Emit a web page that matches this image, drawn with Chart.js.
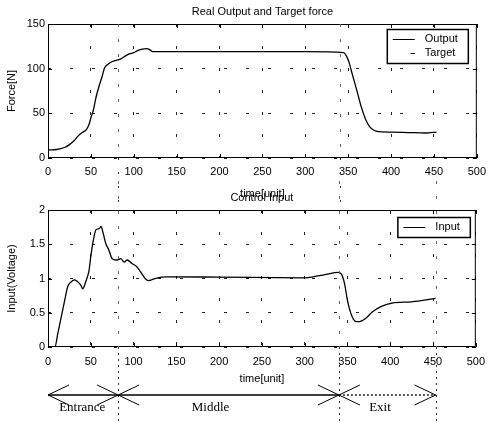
<!DOCTYPE html>
<html>
<head>
<meta charset="utf-8">
<script src="https://cdn.jsdelivr.net/npm/chart.js@4.4.0/dist/chart.umd.min.js"></script>
<style>
  html, body { margin: 0; padding: 0; background: #fff; }
  #wrap { position: relative; width: 493px; height: 423px; overflow: hidden; }
  #wrap canvas { position: absolute; left: 0; }
  #force { top: 0; }
  #input { top: 181px; }
</style>
</head>
<body>
<div id="wrap">
  <canvas id="force" width="493" height="202"></canvas>
  <canvas id="input" width="493" height="242"></canvas>
</div>
<script>
/** Data */
const outputTime = [0, 5, 10, 15, 20, 25, 30, 35, 40, 45, 48, 50, 53, 56, 60, 63, 66, 70, 75, 80,
  85, 90, 95, 100, 105, 110, 115, 119, 122, 150, 200, 250, 300, 345, 348, 351, 355, 360, 365, 370,
  375, 380, 385, 400, 420, 440, 453];
const outputForce = [9, 9.2, 9.5, 10.5, 12, 15, 19, 24.5, 28.5, 32, 38, 45, 54, 68, 82, 91, 101, 105, 108, 109.5,
  111, 114, 116.5, 118, 120.5, 122, 122.5, 121, 119, 119, 119, 119, 119, 118, 114, 107, 93, 76, 58, 44,
  35, 31, 29.5, 29, 28.5, 28, 29];

const inputTime = [0, 8, 11.5, 15.5, 19.5, 23, 27, 31, 35, 38.5, 40.5, 44, 48, 50, 53, 56, 60, 62, 64.5, 67.5,
  71, 75, 81, 85, 89, 92.5, 98, 104, 108, 113.5, 117.5, 123, 133, 140, 200, 300, 310, 325, 339, 342.5,
  346.5, 350, 354, 360, 364, 371.5, 379, 389, 402, 425, 453];
const inputVoltage = [0, 0, 0.2, 0.44, 0.68, 0.88, 0.95, 0.98, 0.95, 0.9, 0.85, 0.95, 1.12, 1.32, 1.56, 1.71, 1.73, 1.76, 1.66, 1.51,
  1.42, 1.29, 1.27, 1.29, 1.24, 1.27, 1.22, 1.17, 1.1, 1.0, 0.97, 0.99, 1.02, 1.025, 1.02, 1.01, 1.025, 1.06, 1.09, 1.07,
  0.93, 0.68, 0.49, 0.37, 0.37, 0.42, 0.51, 0.59, 0.64, 0.66, 0.71];

// phases of the run, in time units
const phaseNames = ['Entrance', 'Middle', 'Exit'];
const phaseEdges = [0, 82, 340, 453];
const phaseLabelAt = [40, 190, 388];

const SANS = '"Liberation Sans", Arial, Helvetica, sans-serif';
const SERIF = '"Liberation Serif", "Times New Roman", serif';

Chart.defaults.font.family = SANS;
Chart.defaults.font.size = 11;
Chart.defaults.color = '#000';

const toPoints = (xs, ys) => xs.map((x, i) => ({x: x, y: ys[i]}));

/** Matlab-like frame: box, inward ticks, title over the axes, legend inside */
const matlabFrame = {
  id: 'matlabFrame',
  afterDraw(chart, args, opts) {
    const {ctx, chartArea: a, scales} = chart;
    ctx.save();
    ctx.strokeStyle = '#000';
    ctx.lineWidth = 1;
    ctx.setLineDash([]);
    ctx.strokeRect(a.left + 0.5, a.top + 0.5, a.right - a.left - 1, a.bottom - a.top - 1);

    ctx.beginPath();
    scales.x.ticks.forEach(t => {
      const px = Math.round(scales.x.getPixelForValue(t.value)) + 0.5;
      ctx.moveTo(px, a.bottom); ctx.lineTo(px, a.bottom - 4);
      ctx.moveTo(px, a.top); ctx.lineTo(px, a.top + 4);
    });
    scales.y.ticks.forEach(t => {
      const py = Math.round(scales.y.getPixelForValue(t.value)) + 0.5;
      ctx.moveTo(a.left, py); ctx.lineTo(a.left + 4, py);
      ctx.moveTo(a.right, py); ctx.lineTo(a.right - 4, py);
    });
    ctx.stroke();

    ctx.fillStyle = '#000';
    ctx.font = '11px ' + SANS;
    ctx.textAlign = 'center';
    ctx.textBaseline = 'middle';
    ctx.fillText(opts.title, (a.left + a.right) / 2, a.top - 12);

    // legend
    const sets = chart.data.datasets;
    const rowH = 14;
    const textW = Math.max(...sets.map(d => ctx.measureText(d.label).width));
    const w = 6 + 22 + 10 + textW + 10;
    const h = sets.length * rowH + 6;
    const x0 = a.right - opts.legendRight - w;
    const y0 = a.top + opts.legendTop;
    ctx.fillStyle = '#fff';
    ctx.fillRect(x0, y0, w, h);
    ctx.lineWidth = 1.5;
    ctx.strokeRect(x0 + 0.5, y0 + 0.5, w, h);
    sets.forEach((d, i) => {
      const cy = y0 + 3 + rowH * i + rowH / 2;
      ctx.save();
      ctx.lineWidth = 1;
      ctx.setLineDash(d.borderDash || []);
      ctx.lineDashOffset = d.borderDashOffset || 0;
      ctx.beginPath();
      ctx.moveTo(x0 + 6, cy + 0.5);
      ctx.lineTo(x0 + 28, cy + 0.5);
      ctx.stroke();
      ctx.restore();
      ctx.fillStyle = '#000';
      ctx.textAlign = 'left';
      ctx.fillText(d.label, x0 + 38, cy);
    });
    ctx.restore();
  }
};

/** Phase boundaries and the Entrance / Middle / Exit arrows */
const phases = {
  id: 'phases',
  afterDraw(chart, args, opts) {
    const {ctx, chartArea: a, scales: {x}} = chart;
    ctx.save();
    ctx.lineWidth = 1;
    // faint inside the axes, denser underneath
    opts.lines.forEach(v => {
      const px = Math.round(x.getPixelForValue(v)) + 0.5;
      ctx.strokeStyle = '#666';
      ctx.setLineDash([3, 12]);
      ctx.beginPath();
      ctx.moveTo(px, opts.fromTop ? 0 : a.top);
      ctx.lineTo(px, a.bottom);
      ctx.stroke();
      ctx.strokeStyle = '#333';
      ctx.setLineDash([2, opts.arrows ? 4 : 12]);
      ctx.beginPath();
      ctx.moveTo(px, a.bottom);
      ctx.lineTo(px, chart.height);
      ctx.stroke();
    });

    if (opts.arrows) {
      const y = a.bottom + 48;
      ctx.strokeStyle = '#000';
      for (let i = 0; i < phaseNames.length; i++) {
        const l = x.getPixelForValue(phaseEdges[i]);
        const r = x.getPixelForValue(phaseEdges[i + 1]);
        ctx.setLineDash(i === 2 ? [2, 2] : []);
        ctx.lineWidth = 1.3;
        ctx.beginPath();
        ctx.moveTo(l, y); ctx.lineTo(r, y);
        ctx.stroke();
        ctx.setLineDash([]);
        ctx.lineWidth = 1;
        ctx.beginPath();
        ctx.moveTo(l + 21, y - 10); ctx.lineTo(l, y); ctx.lineTo(l + 21, y + 10);
        ctx.moveTo(r - 21, y - 10); ctx.lineTo(r, y); ctx.lineTo(r - 21, y + 10);
        ctx.stroke();
        ctx.fillStyle = '#000';
        ctx.font = '13px ' + SERIF;
        ctx.textAlign = 'center';
        ctx.textBaseline = 'middle';
        ctx.fillText(phaseNames[i], x.getPixelForValue(phaseLabelAt[i]), y + 13);
      }
    }
    ctx.restore();
  }
};

const xScale = (labelPad, height) => ({
  type: 'linear',
  min: 0,
  max: 500,
  afterFit: s => { s.height = height; },
  ticks: {stepSize: 50, padding: labelPad, maxRotation: 0, autoSkip: false},
  grid: {color: '#222', drawTicks: false},
  border: {display: false, dash: [3, 19]},
  title: {display: true, text: 'time[unit]', padding: {top: 0, bottom: 1}}
});

const yScale = (max, step, title) => ({
  min: 0,
  max: max,
  afterFit: s => { s.width = 48; },
  ticks: {stepSize: step, padding: 3, callback: v => String(v)},
  grid: {color: '#222', drawTicks: false},
  border: {display: false, dash: [3, 19]},
  title: {display: true, text: title, padding: {top: 5, bottom: 0}}
});

new Chart(document.getElementById('force'), {
  type: 'line',
  data: {
    datasets: [{
      label: 'Output',
      data: toPoints(outputTime, outputForce),
      borderColor: '#000',
      borderWidth: 1.3,
      pointRadius: 0,
      cubicInterpolationMode: 'monotone'
    }, {
      // the target trace is not visible in the figure, only its legend entry
      label: 'Target',
      data: [],
      borderColor: '#000',
      borderWidth: 1,
      borderDash: [4, 20],
      borderDashOffset: 6,
      pointRadius: 0
    }]
  },
  options: {
    responsive: false,
    animation: false,
    layout: {padding: {top: 24, right: 12, left: 0, bottom: 0}},
    scales: {
      x: xScale(7, 44),
      y: yScale(150, 50, 'Force[N]')
    },
    plugins: {
      legend: {display: false},
      tooltip: {enabled: false},
      matlabFrame: {title: 'Real Output and Target force', legendRight: 9, legendTop: 5},
      phases: {lines: [phaseEdges[1], phaseEdges[2]], fromTop: false, arrows: false}
    }
  },
  plugins: [matlabFrame, phases]
});

new Chart(document.getElementById('input'), {
  type: 'line',
  data: {
    datasets: [{
      label: 'Input',
      data: toPoints(inputTime, inputVoltage),
      borderColor: '#000',
      borderWidth: 1.3,
      pointRadius: 0,
      cubicInterpolationMode: 'monotone'
    }]
  },
  options: {
    responsive: false,
    animation: false,
    layout: {padding: {top: 29, right: 12, left: 0, bottom: 36}},
    scales: {
      x: xScale(8, 40),
      y: yScale(2, 0.5, 'Input(Voltage)')
    },
    plugins: {
      legend: {display: false},
      tooltip: {enabled: false},
      matlabFrame: {title: 'Control Input', legendRight: 6, legendTop: 7},
      phases: {lines: phaseEdges.slice(1), fromTop: true, arrows: true}
    }
  },
  plugins: [matlabFrame, phases]
});
</script>
</body>
</html>
